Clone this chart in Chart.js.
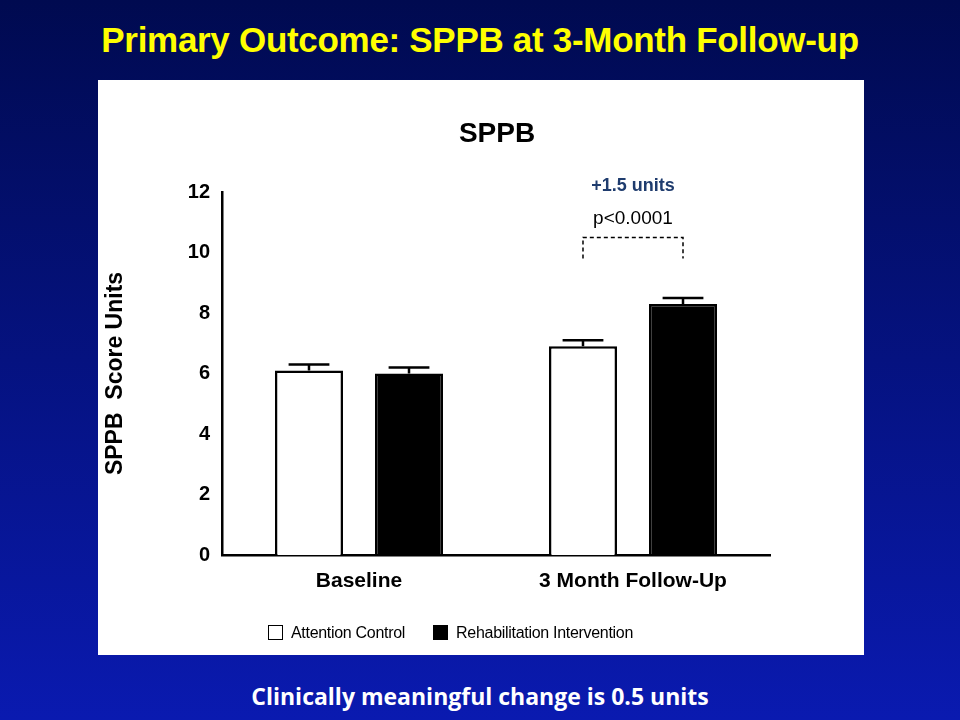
<!DOCTYPE html>
<html><head><meta charset="utf-8">
<script src="https://cdn.jsdelivr.net/npm/chart.js@4/dist/chart.umd.min.js"></script>
<style>
body{margin:0;width:960px;height:720px;overflow:hidden;font-family:Arial,"Liberation Sans",sans-serif;
background:linear-gradient(#000a50,#0a1ab0);position:relative}
#title{position:absolute;top:20px;left:0;width:960px;text-align:center;color:#ffff00;font-weight:bold;font-size:35px;letter-spacing:-0.3px}
#panel{position:absolute;left:98px;top:80px;width:766px;height:575px;background:#fff}
#ctitle{position:absolute;left:98px;top:117px;width:798px;text-align:center;font-weight:bold;font-size:28px}
#legend{position:absolute;left:268px;top:624px;font-size:16px;color:#000;letter-spacing:-0.3px}
#legend span.b{display:inline-block;width:13px;height:13px;border:1.5px solid #000;vertical-align:-2px;margin-right:8px}
#foot{position:absolute;top:680px;left:0;width:960px;text-align:center;color:#fff;font-weight:bold;font-size:23px;font-family:"Open Sans",sans-serif}
</style></head><body>
<div id="title">Primary Outcome: SPPB at 3-Month Follow-up</div>
<div id="panel"><canvas id="c" width="766" height="575"></canvas></div>
<div id="ctitle">SPPB</div>
<div id="legend"><span class="b" style="background:#fff"></span>Attention Control<span style="display:inline-block;width:28px"></span><span class="b" style="background:#000"></span>Rehabilitation Intervention</div>
<div id="foot">Clinically meaningful change is 0.5 units</div>
<script>
const categories = ['Baseline', '3 Month Follow-Up'];
const controlValues = [6.1, 6.9];
const rehabValues = [6.0, 8.3];
const controlErr = [0.2, 0.2];
const rehabErr = [0.2, 0.2];
const yTicks = [0, 2, 4, 6, 8, 10, 12];

const errorBars = {
  id: 'errorBars',
  afterDatasetsDraw(chart) {
    const ctx = chart.ctx, y = chart.scales.y;
    const errs = [controlErr, rehabErr];
    ctx.save();
    ctx.strokeStyle = '#000'; ctx.lineWidth = 2.5;
    chart.data.datasets.forEach(function (ds, i) {
      chart.getDatasetMeta(i).data.forEach(function (bar, j) {
        const top = y.getPixelForValue(ds.data[j] + errs[i][j]);
        const half = bar.width * 0.3;
        ctx.beginPath();
        ctx.moveTo(bar.x, bar.y); ctx.lineTo(bar.x, top);
        ctx.moveTo(bar.x - half, top); ctx.lineTo(bar.x + half, top);
        ctx.stroke();
      });
    });
    // significance bracket
    const a = chart.getDatasetMeta(0).data[1], b = chart.getDatasetMeta(1).data[1];
    const yTop = y.getPixelForValue(10.5), yBot = y.getPixelForValue(9.8);
    ctx.lineWidth = 1.5; ctx.setLineDash([4, 3]);
    ctx.beginPath();
    ctx.moveTo(a.x, yBot); ctx.lineTo(a.x, yTop); ctx.lineTo(b.x, yTop); ctx.lineTo(b.x, yBot);
    ctx.stroke();
    ctx.setLineDash([]);
    const cx = (a.x + b.x) / 2;
    ctx.textAlign = 'center'; ctx.textBaseline = 'middle';
    ctx.fillStyle = '#1f3c6e'; ctx.font = 'bold 18px Arial';
    ctx.fillText('+1.5 units', cx, y.getPixelForValue(12.2));
    ctx.fillStyle = '#000'; ctx.font = '19px Arial';
    ctx.fillText('p<0.0001', cx, y.getPixelForValue(11.1));
    ctx.restore();
  }
};

new Chart(document.getElementById('c'), {
  type: 'bar',
  data: {
    labels: categories,
    datasets: [
      { label: 'Attention Control', data: controlValues, backgroundColor: '#fff', borderColor: '#000', borderWidth: 2.5 },
      { label: 'Rehabilitation Intervention', data: rehabValues, backgroundColor: '#000', borderColor: '#000', borderWidth: 2.5 }
    ]
  },
  options: {
    responsive: false, animation: false,
    devicePixelRatio: 1,
    layout: { padding: { top: 112, right: 94, left: 0, bottom: 0 } },
    plugins: { legend: { display: false }, tooltip: { enabled: false } },
    datasets: { bar: { categoryPercentage: 0.73, barPercentage: 0.68 } },
    scales: {
      y: {
        min: 0, max: 12,
        afterBuildTicks(s) { s.ticks = yTicks.map(function (v) { return { value: v }; }); },
        afterFit(s) { s.width = 124; },
        grid: { display: false, drawTicks: true, tickLength: 8, tickColor: '#000', tickWidth: 2.5 },
        border: { color: '#000', width: 2.5 },
        ticks: { color: '#000', font: { size: 20, weight: 'bold', family: 'Arial' }, padding: 4 },
        title: { display: true, text: 'SPPB  Score Units', color: '#000', font: { size: 23, weight: 'bold', family: 'Arial' } }
      },
      x: {
        afterFit(s) { s.height = 100; },
        grid: { display: false, drawTicks: true, tickLength: 8, tickColor: '#000', tickWidth: 2.5 },
        border: { color: '#000', width: 2.5 },
        ticks: { color: '#000', font: { size: 21, weight: 'bold', family: 'Arial' }, padding: 6 }
      }
    }
  },
  plugins: [errorBars]
});
</script>
</body></html>
